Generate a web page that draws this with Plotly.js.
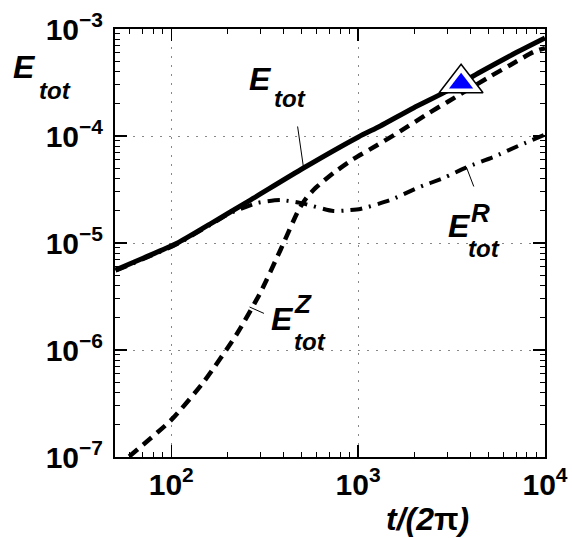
<!DOCTYPE html>
<html>
<head>
<meta charset="utf-8">
<script src="https://cdn.plot.ly/plotly-3.0.1.min.js"></script>
<style>
  html, body { margin: 0; padding: 0; background: #fff; }
  #chart { width: 572px; height: 538px; }
</style>
</head>
<body>
<div id="chart"></div>
<script>
// total energy (solid)
const tTot = [50.4, 71.1, 108, 162, 265, 510, 1004, 1315, 1977, 3006, 4508, 6776, 10000];
const eTot = [5.6e-6, 7.24e-6, 1.0e-5, 1.51e-5, 2.52e-5, 5.02e-5, 9.8e-5, 1.24e-4, 1.83e-4, 2.64e-4, 3.96e-4, 5.83e-4, 8.24e-4];

// Z part (dashed)
const tZ = [50.4, 59.1, 100, 149, 226, 301, 384, 480, 529, 592, 738, 944, 1268, 1683, 2350, 3006, 4920, 6531, 8670, 10000];
const eZ = [7.9e-8, 1.0e-7, 2.22e-7, 5.02e-7, 1.44e-6, 3.48e-6, 8.61e-6, 2.03e-5, 2.64e-5, 3.27e-5, 4.51e-5, 6.1e-5, 8.24e-5, 1.11e-4, 1.61e-4, 2.08e-4, 3.48e-4, 4.61e-4, 6.1e-4, 6.64e-4];

// R part (dash-dot)
const tR = [50.4, 71.1, 108, 162, 207, 289, 384, 491, 738, 910, 1028, 1486, 2075, 2858, 3837, 5297, 7379, 10000];
const eR = [5.5e-6, 7.1e-6, 9.8e-6, 1.48e-5, 1.9e-5, 2.37e-5, 2.52e-5, 2.37e-5, 1.99e-5, 2.03e-5, 2.08e-5, 2.52e-5, 3.27e-5, 4.05e-5, 5.13e-5, 6.37e-5, 8.24e-5, 1.03e-4];

// triangle marker
const tMark = [3556];
const eMark = [3.11e-4];

// ticks
const xTickVals = [100, 1000, 10000];
const xTickText = ['10<sup>2</sup>', '10<sup>3</sup>', '10<sup>4</sup>'];
const yTickVals = [1e-7, 1e-6, 1e-5, 1e-4, 1e-3];
const yTickText = ['10<sup>\u22127</sup>', '10<sup>\u22126</sup>', '10<sup>\u22125</sup>', '10<sup>\u22124</sup>', '10<sup>\u22123</sup>'];

function minorTicks(lo, hi) {
    const out = [];
    for (let d = lo; d < hi; d++) {
        for (let k = 2; k <= 9; k++) out.push(k * Math.pow(10, d));
    }
    return out;
}

const FONT = 'Liberation Sans, Arial, Helvetica, sans-serif';

const traces = [
    { x: tTot, y: eTot, mode: 'lines', line: { color: '#000', width: 5, shape: 'spline', smoothing: 0.6 }, showlegend: false },
    { x: tZ, y: eZ, mode: 'lines', line: { color: '#000', width: 4.5, dash: '11px,7px', shape: 'spline', smoothing: 0.6 }, showlegend: false },
    { x: tR, y: eR, mode: 'lines', line: { color: '#000', width: 4, dash: '12px,7px,2px,7px', shape: 'spline', smoothing: 0.6 }, showlegend: false },
    { x: tMark, y: eMark, mode: 'markers', marker: { symbol: 'triangle-up', size: 38, color: '#fff', line: { color: '#000', width: 1.5 } }, showlegend: false },
    { x: tMark, y: eMark, mode: 'markers', marker: { symbol: 'triangle-up', size: 21, color: '#0000ff', line: { width: 0 } }, showlegend: false }
];

// plot box in pixels
const L = 115, T = 29, W = 430, H = 428;
function lab(txt, cx, cy, size, italic) {
    return {
        xref: 'paper', yref: 'paper',
        x: (cx - L) / W, y: 1 - (cy - T) / H,
        xanchor: 'center', yanchor: 'middle',
        text: txt, showarrow: false,
        font: { family: FONT, size: size, weight: 'bold', style: italic ? 'italic' : 'normal', color: '#000' }
    };
}
function leader(x0, y0, x1, y1) {
    return {
        x: x0, y: y0, ax: x1, ay: y1, xref: 'x', yref: 'y', axref: 'x', ayref: 'y',
        text: '', showarrow: true, arrowhead: 0, arrowwidth: 1, arrowcolor: '#000',
        standoff: 0, startstandoff: 0
    };
}

const annotations = [
    // y label
    lab('E', 24.5, 67, 32, true),
    lab('tot', 54.5, 90, 24, true),
    // x label
    lab('<i>t/(2</i>\u03c0<i>)</i>', 427.5, 519, 32, false),
    // E_tot
    lab('E', 260.5, 78.5, 32, true),
    lab('tot', 289.5, 98.5, 24, true),
    // E_tot^Z
    lab('E', 282, 319, 32, true),
    lab('Z', 302.5, 304, 26, true),
    lab('tot', 310, 341, 24, true),
    // E_tot^R
    lab('E', 459, 226, 32, true),
    lab('R', 480.5, 212.5, 26, true),
    lab('tot', 484, 248.5, 24, true),
    // leader lines
    leader(2.708, -4.299, 2.675, -3.897),
    leader(2.419, -5.598, 2.504, -5.664),
    leader(3.579, -4.290, 3.622, -4.486)
];

const axisCommon = {
    type: 'log',
    tickmode: 'array',
    ticks: 'inside', ticklen: 12, tickwidth: 1.5, tickcolor: '#000',
    showline: true, linecolor: '#000', linewidth: 2, mirror: 'allticks',
    showgrid: true, gridcolor: '#888', gridwidth: 1, griddash: '2px,7px',
    zeroline: false,
    tickfont: { family: FONT, size: 30, weight: 'bold', color: '#000' }
};

const layout = {
    width: 572, height: 538,
    margin: { l: L, r: 572 - L - W, t: T, b: 538 - T - H },
    paper_bgcolor: '#fff', plot_bgcolor: '#fff',
    showlegend: false,
    xaxis: Object.assign({}, axisCommon, {
        range: [Math.log10(50), 4],
        tickvals: xTickVals, ticktext: xTickText,
        minor: { tickmode: 'array', tickvals: minorTicks(1, 4), ticks: 'inside', ticklen: 5, tickwidth: 1, tickcolor: '#000', showgrid: false }
    }),
    yaxis: Object.assign({}, axisCommon, {
        range: [-7, -3],
        tickvals: yTickVals, ticktext: yTickText,
        ticklabelstandoff: 4,
        minor: { tickmode: 'array', tickvals: minorTicks(-7, -3), ticks: 'inside', ticklen: 5, tickwidth: 1, tickcolor: '#000', showgrid: false }
    }),
    annotations: annotations
};

Plotly.newPlot('chart', traces, layout, { displayModeBar: false, staticPlot: true });
</script>
</body>
</html>
